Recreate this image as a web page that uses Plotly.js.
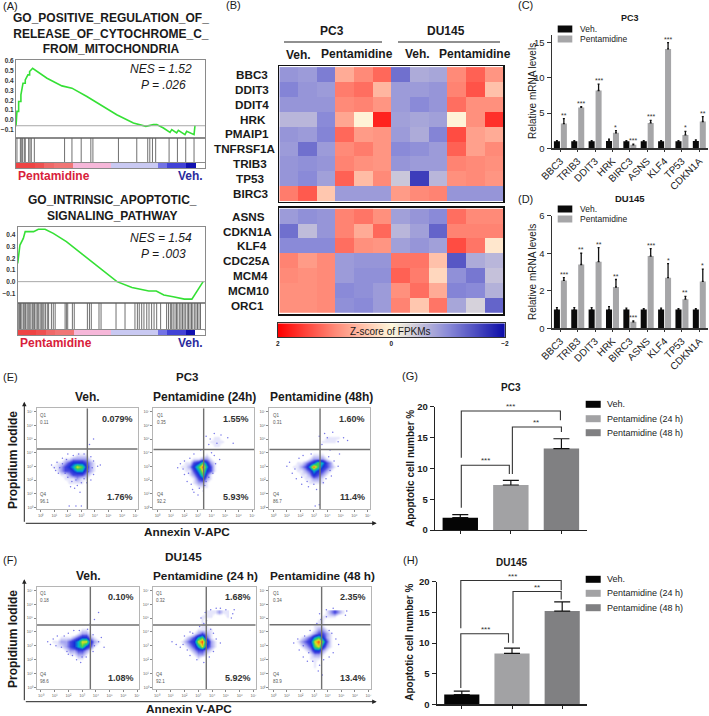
<!DOCTYPE html>
<html>
<head>
<meta charset="utf-8">
<script src="https://cdn.plot.ly/plotly-3.0.1.min.js"></script>
<style>body { margin: 0; background: #fff; }</style>
</head>
<body>
<div id="chart" style="width:709px;height:716px"></div>
<script>
// panel A: GSEA running score
const gsea1Rank = [0, .005, .014, .014, .026, .026, .037, .049, .049, .063, .072, .072, .088, .164, .243, .296, .375, .445, .533, .621, .687, .727, .745, .78, .815, .824, .85, .859, .894, .903, .942, .947];
const gsea1Score = [-.066, .086, .086, .187, .187, .255, .373, .373, .407, .458, .458, .492, .526, .424, .346, .323, .238, .154, .052, -.032, -.066, -.049, -.049, -.083, -.127, -.1, -.134, -.107, -.151, -.117, -.151, -.059];
const gsea1Hits = [.005, .023, .028, .035, .044, .049, .067, .074, .081, .097, .257, .296, .345, .396, .407, .542, .639, .697, .708, .722, .739, .81, .854, .898, .942];
const gsea2Rank = [0, .005, .012, .03, .04, .085, .11, .146, .19, .26, .35, .44, .53, .61, .70, .74, .78, .83, .89, .93, .95, .97, .98, .99];
const gsea2Score = [.157, .25, .314, .371, .429, .429, .449, .449, .414, .343, .229, .115, 0, -.05, -.08, -.08, -.114, -.13, -.15, -.15, -.10, -.05, -.02, 0];
const gsea2Hits = [.003, .01, .015, .022, .03, .035, .042, .05, .056, .062, .07, .078, .083, .09, .098, .105, .112, .12, .128, .134, .14, .148, .158, .165, .18, .19, .2, .253, .26, .267, .292, .302, .372, .383, .393, .434, .445, .525, .573, .626, .639, .649, .662, .674, .689, .701, .715, .728, .742, .763, .795, .805, .815, .822, .83, .84, .848, .855, .865, .872, .88, .888, .895, .905, .912, .92, .928, .935, .945, .952, .96, .968, .976];
const stripValues = [3, 3, 2.8, 2.4, 2.2, 2.2, 1, 1, 1, 1, -1, -1, -1, -1, -1, -1.7, -2.2, -2.2, -3, 0];

// panel B: z-scores by gene, columns are PC3 veh x3, pent x3, DU145 veh x3, pent x3
const genesTop = ["BBC3", "DDIT3", "DDIT4", "HRK", "PMAIP1", "TNFRSF1A", "TRIB3", "TP53", "BIRC3"];
const zTop = [
    [-.9, -.85, -1.1, .7, 1, 1.25, -1.2, -.7, -.75, 1, 1.3, .9],
    [-1.05, -.9, -.85, 1.1, 1.2, .6, -.85, -.85, -.9, 1.05, 1.4, .5],
    [-.9, -.9, -.9, 1, 1.05, .9, -.85, -1, -.9, 1.2, .95, .95],
    [-.6, -.6, -1, .75, .05, 1.75, -.8, -.75, -.8, .05, .95, 1.65],
    [-.9, -.85, -1.05, 1.25, .85, .9, -.85, -.7, -1.05, 1.45, .8, .7],
    [-.85, -1.2, -.85, 1, 1.1, .9, -1, -.95, -.85, 1.3, .8, 1],
    [-.9, -.95, -.9, 1.05, .95, .9, -.9, -.85, -.85, 1.05, 1, .95],
    [-.9, -1, -.8, 1.3, .55, 1, -.45, -1.6, -.6, .95, 1, .9],
    [1.1, 1.35, .45, -.85, -.85, -.85, .85, 1, 1.05, -.9, -.9, -.9],
];
const genesBottom = ["ASNS", "CDKN1A", "KLF4", "CDC25A", "MCM4", "MCM10", "ORC1"];
const zBottom = [
    [-.85, -.95, -.9, 1.05, 1.15, .95, -.8, -.9, -1, 1.2, 1, 1],
    [-1.2, -.55, -.9, 1.05, .7, 1.25, -.6, -.8, -1.3, 1.05, 1.05, 1.05],
    [-1, -1, -1, 1.2, .95, .9, -.8, -.9, -.8, 1.45, 1.15, .15],
    [1.05, .85, 1, -.85, -.9, -.9, 1.15, 1.15, .5, -1.4, -.7, -.6],
    [1, .95, 1, -.85, -.95, -.95, 1.3, 1.1, .3, -.95, -1.15, -.5],
    [.95, .95, 1, -1, -.95, -.85, .95, 1.2, .7, -1.05, -1, -.65],
    [.95, .95, 1, -.95, -1, -.85, 1.05, .45, 1.15, -.75, -.35, -1.3],
];
const zScale = [2, 1.5, 1, .5, 0, -.5, -1, -1.5, -2];

// panels C and D: qPCR
const qpcrGenes = ["BBC3", "TRIB3", "DDIT3", "HRK", "BIRC3", "ASNS", "KLF4", "TP53", "CDKN1A"];
const pc3Veh = [1, 1, 1, 1.05, 1, 1, 1, 1, 1.05];
const pc3VehErr = [.1, .1, .1, .25, .1, .1, .1, .1, .15];
const pc3Pent = [3.5, 5.8, 8.2, 2.2, .5, 3.6, 14.1, 1.9, 3.8];
const pc3PentErr = [.7, .1, .9, .3, .1, .35, .9, .5, .7];
const pc3Sig = ["**", "***", "***", "*", "***", "***", "***", "*", "**"];
const duVeh = [1, 1, 1, 1, 1, 1, 1, 1, 1];
const duVehErr = [.1, .1, .1, .15, .08, .05, .08, .05, .05];
const duPent = [2.55, 3.4, 3.55, 2.2, .35, 3.85, 2.7, 1.55, 2.5];
const duPentErr = [.15, .6, .75, .4, .05, .4, .75, .15, .65];
const duSig = ["***", "**", "**", "**", "***", "***", "*", "**", "*"];

// panels G and H: apoptosis
const treatments = ["Veh.", "Pentamidine (24 h)", "Pentamidine (48 h)"];
const pc3Apoptosis = [2, 7.3, 13.2];
const pc3ApoptosisErr = [.5, .75, 1.6];
const duApoptosis = [1.6, 8.3, 15.2];
const duApoptosisErr = [.55, .85, 1.5];

// panels E and F: flow density, one digit per cell
const densityX = [.6, .9, 1.2, 1.5, 1.8, 2.1, 2.4, 2.7, 3, 3.3, 3.6, 3.9, 4.2, 4.5, 4.8, 5.1];
const densityY = [5.4, 5.1, 4.8, 4.5, 4.2, 3.9, 3.6, 3.3, 3, 2.7, 2.4, 2.1, 1.8, 1.5, 1.2];
const e1Density = ["0000000000000000", "0000000000000000", "0000000000000000", "0000000000000000", "0000000000000000", "0000000111000000", "0000112222100000", "0011234443210000", "0112345764210000", "0012334553210000", "0001123332100000", "0000111211000000", "0000011110000000", "0000000000000000", "0000000000000000"];
const e2Density = ["0000000000000000", "0000000000001100", "0000000000011110", "0000000000001100", "0000000000000000", "0000000000100000", "0000000112210000", "0000011346421000", "0000112468531000", "0000011357431000", "0000001246310000", "0000000134210000", "0000000122100000", "0000000011100000", "0000000000000000"];
const e3Density = ["0000000000000000", "0000000000011110", "0000000000111100", "0000000000000000", "0000000000000000", "0000000011100000", "0000000122210000", "0000112346532000", "0001123586432100", "0000112354321000", "0000011243210000", "0000001122100000", "0000000111100000", "0000000000000000", "0000000000000000"];
const f1Density = ["0000000000000000", "0000000000000000", "0000000000000000", "0000000000000000", "0000000011000000", "0000000122100000", "0001112344210000", "0112234577421000", "0011234564310000", "0000122332100000", "0000011221000000", "0000000110000000", "0000000000000000", "0000000000000000", "0000000000000000"];
const f2Density = ["0000000000111211", "0000000001110001", "0000000001000000", "0000000001100000", "0000000011110000", "0000000123210000", "0000012356310000", "0000123478521000", "0000012357421000", "0000001233210000", "0000000122100000", "0000000010000000", "0000000000000000", "0000000000000000", "0000000000000000"];
const f3Density = ["0000000000012321", "0000000000111100", "0000000001100000", "0000000011100000", "0000000012210000", "0000000123321000", "0000012356421000", "0000123478631000", "0000012367421000", "0000001244210000", "0000000122100000", "0000000111000000", "0000000010000000", "0000000010000000", "0000000000000000"];
const e1Dots = [[1, 2.9], [.8, 3.1], [1.3, 2.5], [1.6, 3.6], [3.9, 3.4], [4.2, 3], [3.9, 2.4], [3.6, 4.6], [3.9, 5], [2.5, 1.4], [2.9, 1.1], [2.2, 1.5], [3.4, 1.8], [3.2, 3.9], [2, 3.9], [4.4, 3.1], [1.2, 3.3], [3.7, 2], [2.7, 1.6], [1.4, 2.9], [1.6, 3.2], [1.8, 2.5], [2, 2.2], [2.3, 1.9], [2.6, 2], [3, 1.8], [3.2, 2.1], [3.5, 2.6], [3.7, 3.7], [2.4, 3.8], [2.8, 3.9], [1.9, 3.5], [1.1, 2.7], [3.8, 2.9], [2.1, .1], [2.6, .1], [3, .1]];
const e2Dots = [[1.5, 2.9], [1.7, 3.2], [2, 2.4], [2.2, 1.9], [4.3, 3.2], [4.6, 3.5], [4.1, 2.5], [3.4, 1.2], [3, .9], [3.2, 4.2], [3.8, 4.6], [4.7, 5.3], [5.2, 5.1], [5.6, 4.7], [3.6, 5.2], [4, 4], [2.6, 1.3], [3.5, 1.6], [2.7, 3.9], [4.2, 5.4], [4.4, 4.7], [3.9, 5], [2.3, 2.5], [2.4, 3.6], [2, 3.4], [3.8, 2.2], [3.6, 1.9], [2.5, 1.7], [2.7, 1.1], [3.1, 1.4], [4.2, 3.8], [1.9, 2.8]];
const e3Dots = [[1, 3], [1.2, 3.3], [1.4, 2.5], [1.7, 2.1], [4.5, 3.4], [4.8, 3], [4.3, 2.3], [3.2, 1.3], [2.6, 1.5], [3.6, 4.6], [3.4, 5.2], [5.2, 5.1], [5.5, 4.9], [4.2, 4.2], [2.2, 3.8], [3.7, 1.8], [2.1, 1.7], [4.9, 3.9], [3.4, .2], [3.1, .1], [3.8, 5.4], [4.4, 5.5], [4.8, 4.8], [4, 5.1], [1.6, 2.8], [1.9, 3.6], [2.1, 2.2], [2.5, 1.9], [3, 1.7], [3.9, 2.1], [4.2, 2.7], [4.1, 3.7], [2.8, 3.9]];
const f1Dots = [[.5, 3.3], [.7, 3.1], [.9, 3.5], [1.2, 3.7], [4.2, 3.3], [4.4, 3.6], [3.8, 2.6], [3.6, 4.6], [4.2, 5.4], [3.9, 4.9], [3.3, 2.2], [2.6, 2], [2.9, 1.8], [1.9, 2.6], [4.6, 2.9], [3.4, 4.2], [2.4, 4.1], [1.1, 3], [1.5, 2.9], [1.7, 3.7], [2, 2.4], [2.3, 2.3], [3, 2.2], [3.6, 2.9], [3.9, 3], [3.8, 3.8], [2.8, 4.1], [2, 3.9]];
const f2Dots = [[1.1, 3.3], [1.4, 3.1], [1.7, 2.9], [2, 3.7], [4.3, 3.5], [4.6, 3.2], [4.1, 2.6], [3.4, 1.8], [2.9, 2], [3.6, 4.8], [5.4, 5], [5.5, 5.3], [5.6, 5.6], [4.3, 5.7], [3.2, 5], [3.9, 4.2], [2.4, 4], [1.9, 3.1], [2.2, 2.7], [2.4, 2.3], [2.6, 3.9], [3.1, 4.4], [3.4, 4.6], [3.8, 2.2], [4.1, 3.9], [3.9, 5.6], [3.5, 5.4], [4.6, 5.7], [5, 5.6]];
const f3Dots = [[1.5, 3.2], [1.8, 3.5], [1.9, 2.7], [2.2, 2.2], [4.6, 3.5], [4.8, 3.1], [4.4, 2.5], [3.3, 1.2], [3.6, .9], [3.4, 1.6], [3.5, 4.9], [5.4, 5.5], [5.3, 5.2], [3.9, 5.1], [2.7, 4.1], [4.1, 4.1], [2.5, 1.9], [2.2, 3], [2.3, 3.7], [2.6, 2.5], [3.7, 2], [4.1, 2.2], [4.3, 3.9], [3.2, 4.6], [3.4, 5.3], [3.9, 5.6], [4.4, 5.7], [2.9, 1.9]];
const flowTickLabels = ["10⁰", "10¹", "10²", "10³", "10⁴", "10⁵", "10⁶", "10⁷"];

const W = 709, H = 716;
const GENE_RED = "#d8213b", GENE_BLUE = "#2b2b9c";

let data = [], layout = {
    width: W, height: H, margin: {l: 0, r: 0, t: 0, b: 0}, showlegend: false,
    paper_bgcolor: "#fff", plot_bgcolor: "rgba(0,0,0,0)",
    font: {family: '"Liberation Sans", Arial, sans-serif', color: "#1a1a1a"},
    annotations: [], shapes: [],
};
let axisCount = 0;

// place a subplot by its pixel box
function addAxes(x0, x1, y0, y1, xOpts, yOpts) {
    axisCount += 1;
    let n = axisCount;
    layout["xaxis" + n] = Object.assign({domain: [x0 / W, x1 / W], anchor: "y" + n, showgrid: false, zeroline: false, showticklabels: false, ticks: ""}, xOpts);
    layout["yaxis" + n] = Object.assign({domain: [1 - y1 / H, 1 - y0 / H], anchor: "x" + n, showgrid: false, zeroline: false, showticklabels: false, ticks: ""}, yOpts);
    return {xaxis: "x" + n, yaxis: "y" + n};
}

function label(x, y, text, opts) {
    opts = opts || {};
    layout.annotations.push({
        xref: "paper", yref: "paper", x: x / W, y: 1 - y / H, text: opts.bold ? "<b>" + text + "</b>" : text,
        showarrow: false, xanchor: opts.anchor || "center", yanchor: "middle", textangle: opts.angle || 0,
        font: {size: opts.size || 10, color: opts.color || "#1a1a1a"},
    });
}

function arrow(x, y, dx, dy) {
    layout.annotations.push({
        xref: "paper", yref: "paper", x: x / W, y: 1 - y / H, ax: dx, ay: dy, text: "",
        showarrow: true, arrowhead: 2, arrowsize: .9, arrowwidth: 1, arrowcolor: "#222",
    });
}

function rule(x0, y0, x1, y1) {
    layout.shapes.push({type: "line", xref: "paper", yref: "paper", x0: x0 / W, x1: x1 / W, y0: 1 - y0 / H, y1: 1 - y1 / H, line: {color: "#222", width: 1.2}});
}

function swatch(x0, x1, y, color) {
    layout.shapes.push({type: "rect", xref: "paper", yref: "paper", x0: x0 / W, x1: x1 / W, y0: 1 - (y + 3.5) / H, y1: 1 - (y - 3.5) / H, fillcolor: color, line: {width: 0}});
}

// panel A
function gseaPanel(box, hitsBottom, stripBottom, yRange, yTicks, rank, score, hits, zero, title, titleX, titleY, nes, pval, nesY, wordY) {
    const frame = {showline: true, linecolor: "#8a8a8a", linewidth: 1, mirror: true};
    let curve = addAxes(box[0], box[1], box[2], box[3],
        Object.assign({range: [0, 1]}, frame),
        Object.assign({range: yRange, tickvals: yTicks, ticktext: yTicks.map(v => v.toFixed(1).replace("-", "−")), showticklabels: true, tickfont: {size: 6.5, color: "#333", weight: "bold"}, ticklen: 0}, frame));
    layout.shapes.push({type: "line", xref: curve.xaxis + " domain", yref: curve.yaxis, x0: 0, x1: 1, y0: zero, y1: zero, line: {color: "#a8a8a8", width: 1}});
    data.push(Object.assign({type: "scatter", mode: "lines", x: rank, y: score, line: {color: "#35e035", width: 1.6}}, curve));

    let hitAxes = addAxes(box[0], box[1], box[3], hitsBottom, Object.assign({range: [0, 1]}, frame), Object.assign({range: [0, 1]}, frame));
    data.push(Object.assign({
        type: "scatter", mode: "lines",
        x: hits.flatMap(r => [r, r, null]), y: hits.flatMap(() => [0, 1, null]),
        line: {color: "#606060", width: .9},
    }, hitAxes));

    let stripAxes = addAxes(box[0], box[1], hitsBottom, stripBottom, Object.assign({range: [0, 1]}, frame), Object.assign({range: [-.5, .5]}, frame));
    data.push(Object.assign({
        type: "heatmap", x: stripValues.map((v, i) => (i + .5) / stripValues.length), z: [stripValues], zmin: -3, zmax: 3, showscale: false,
        colorscale: [[0, "#1010b0"], [.17, "#5050e0"], [.33, "#c8c8f2"], [.5, "#ffffff"], [.67, "#f6b6d8"], [.83, "#f08282"], [1, "#ee4444"]],
    }, stripAxes));

    label(titleX, titleY, title, {bold: true, size: 12});
    label(161, nesY, nes, {size: 12});
    label(163, nesY + 16, pval, {size: 12});
    label(box[0], wordY, "Pentamidine", {bold: true, size: 12, color: GENE_RED, anchor: "left"});
    label(box[1], wordY, "Veh.", {bold: true, size: 12, color: GENE_BLUE, anchor: "right"});
}

gseaPanel([16, 205, 60, 138], 163, 168, [-.185, .61], [.6, .5, .4, .3, .2, .1, 0, -.1], gsea1Rank, gsea1Score, gsea1Hits, -.06,
    "GO_POSITIVE_REGULATION_OF_<br>RELEASE_OF_CYTOCHROME_C_<br>FROM_MITOCHONDRIA", 111, 34, "<i>NES = 1.52</i>", "<i>P = .026</i>", 69, 176);
gseaPanel([17.7, 205, 226.7, 303], 330, 335, [-.183, .471], [.4, .3, .2, .1, 0, -.1], gsea2Rank, gsea2Score, gsea2Hits, 0,
    "GO_INTRINSIC_APOPTOTIC_<br>SIGNALING_PATHWAY", 112.5, 208, "<i>NES = 1.54</i>", "<i>P = .003</i>", 238, 343);

// panel B
const heatColors = [[0, "#0a0aa8"], [.25, "#8a8ad8"], [.5, "#fff8dc"], [.75, "#ff8a78"], [1, "#ff0000"]];
function heatPanel(y0, y1, genes, z, labelCenters) {
    let frame = {showline: true, linecolor: "#111", linewidth: 1.5, mirror: true};
    let axes = addAxes(279.3, 503.3, y0, y1, Object.assign({range: [-.5, 11.5]}, frame), Object.assign({autorange: "reversed", type: "category"}, frame));
    data.push(Object.assign({type: "heatmap", z: z, y: genes, zmin: -2, zmax: 2, colorscale: heatColors, showscale: false}, axes));
    genes.forEach(function(gene, i) {
        layout.annotations.push({xref: "paper", yref: axes.yaxis, x: labelCenters[i] / W, y: gene, text: "<b>" + gene + "</b>", showarrow: false, font: {size: 11.7}});
    });
}
heatPanel(66, 201.7, genesTop, zTop, [251.5, 252, 252, 253, 246.5, 245, 250, 250, 251]);
heatPanel(207.7, 314, genesBottom, zBottom, [248, 247.5, 252, 246, 250, 248.5, 247.5]);
let scaleAxes = addAxes(277.7, 505, 323.3, 337.3,
    {range: [2, -2], tickvals: [2, 0, -2], ticktext: ["2", "0", "−2"], showticklabels: true, tickfont: {size: 6.5, weight: "bold"}, ticks: "", showline: true, linecolor: "#333", linewidth: 1, mirror: true},
    {range: [-.5, .5], showline: true, linecolor: "#333", linewidth: 1, mirror: true});
data.push(Object.assign({type: "heatmap", x: zScale, z: [zScale], zmin: -2, zmax: 2, zsmooth: "best", colorscale: heatColors, showscale: false}, scaleAxes));
label(390, 331, "Z-score of FPKMs", {size: 10});
label(331.7, 31, "PC3", {bold: true, size: 12});
label(445.7, 31, "DU145", {bold: true, size: 12});
rule(284, 42, 382, 42);
rule(398, 42, 500, 42);
label(298, 55, "Veh.", {bold: true, size: 12});
label(357, 54, "Pentamidine", {bold: true, size: 12});
label(417, 54, "Veh.", {bold: true, size: 12});
label(475, 54, "Pentamidine", {bold: true, size: 12});

// panels C and D
function qpcrPanel(y0, y1, yMax, yTicks, veh, vehErr, pent, pentErr, sig, title, titleSize, titleY, legendY, ylabelY) {
    let axes = addAxes(551.7, 708, y0, y1,
        {type: "category", categoryorder: "array", categoryarray: qpcrGenes, range: [-.5, 8.5], tickvals: qpcrGenes, showticklabels: true, tickangle: -45, tickfont: {size: 10, color: "#222"}, ticks: "outside", ticklen: 2, tickcolor: "#333", showline: true, linecolor: "#333", linewidth: 1.2},
        {range: [0, yMax], tickvals: yTicks, showticklabels: true, tickfont: {size: 9.5, color: "#222"}, ticks: "outside", ticklen: 4, tickcolor: "#333", showline: true, linecolor: "#333", linewidth: 1.2});
    data.push(Object.assign({type: "bar", name: "Veh.", x: qpcrGenes, y: veh, marker: {color: "#0a0a0a"}, error_y: {type: "data", array: vehErr, arrayminus: vehErr.map(() => 0), color: "#111", thickness: 1.3, width: 1}}, axes));
    data.push(Object.assign({type: "bar", name: "Pentamidine", x: qpcrGenes, y: pent, marker: {color: "#a6a6a8"}, error_y: {type: "data", array: pentErr, arrayminus: pentErr.map(() => 0), color: "#111", thickness: 1.3, width: 1}}, axes));
    sig.forEach(function(s, i) {
        layout.annotations.push({xref: axes.xaxis, yref: axes.yaxis, x: i + .2, y: pent[i] + pentErr[i], text: s, showarrow: false, yanchor: "bottom", yshift: -2, font: {size: 7, color: "#333"}});
    });
    label(629.5, titleY, title, {bold: true, size: titleSize});
    swatch(557.7, 572.3, legendY, "#0a0a0a");
    swatch(557.7, 572.3, legendY + 10, "#a6a6a8");
    label(578, legendY, "Veh.", {size: 8.5, anchor: "left"});
    label(578, legendY + 10, "Pentamidine", {size: 8.5, anchor: "left"});
    label(532, ylabelY, "Relative mRNA levels", {size: 10, angle: -90});
}
layout.barmode = "group";
layout.bargap = .2;
layout.bargroupgap = .13;
qpcrPanel(35, 148.3, 16.07, [0, 5, 10, 15], pc3Veh, pc3VehErr, pc3Pent, pc3PentErr, pc3Sig, "PC3", 9, 18, 29, 91);
qpcrPanel(215.7, 328.3, 6, [0, 2, 4, 6], duVeh, duVehErr, duPent, duPentErr, duSig, "DU145", 9.5, 198, 209, 272);

// panels E and F
const flowColors = [[0, "#ffffff"], [.06, "#ffffff"], [.125, "#e6e6fb"], [.25, "#a4a4f0"], [.375, "#4646e0"], [.5, "#1630d8"], [.625, "#00b0d0"], [.75, "#40d050"], [.875, "#e8e020"], [1, "#ff4a10"]];
function flowPanel(box, density, dots, gateX, gateY, q1, q4, upper, lower) {
    let frame = {showline: true, linecolor: "#b5b5b5", linewidth: 1, mirror: true, tickvals: [0, 1, 2, 3, 4, 5, 6, 7], ticktext: flowTickLabels, showticklabels: true, tickfont: {size: 4, color: "#666"}, ticks: "outside", ticklen: 2, tickcolor: "#888"};
    let axes = addAxes(box[0], box[1], box[2], box[3], Object.assign({range: [-.3, 7.16]}, frame), Object.assign({range: [-.12, 7.25]}, frame));
    data.push(Object.assign({
        type: "heatmap", x: densityX, y: densityY, z: density.map(row => row.split("").map(Number)),
        zmin: 0, zmax: 8, zsmooth: "best", colorscale: flowColors, showscale: false,
    }, axes));
    data.push(Object.assign({type: "scatter", mode: "markers", x: dots.map(d => d[0]), y: dots.map(d => d[1]), marker: {size: 1.5, color: "#4a4ae0", opacity: .75}}, axes));
    data.push(Object.assign({type: "scatter", mode: "lines", x: [gateX, gateX], y: [-.12, 7.25], line: {color: "#707070", width: 1.4}}, axes));
    data.push(Object.assign({type: "scatter", mode: "lines", x: [-.3, 7.16], y: [gateY, gateY], line: {color: "#707070", width: 1.4}}, axes));
    label(box[0] + 1.7, box[2] + 6.7, "Q1", {size: 4.5, color: "#555", anchor: "left"});
    label(box[0] + 1.7, box[2] + 14, q1, {size: 4.5, color: "#555", anchor: "left"});
    label(box[0] + 1.7, box[3] - 14.5, "Q4", {size: 4.5, color: "#555", anchor: "left"});
    label(box[0] + 1.7, box[3] - 7.5, q4, {size: 4.5, color: "#555", anchor: "left"});
    label(box[1] - 3, box[2] + 10.4, upper, {bold: true, size: 9, color: "#333", anchor: "right"});
    label(box[1] - 3, box[3] - 11.5, lower, {bold: true, size: 9, color: "#333", anchor: "right"});
}
flowPanel([36.7, 137.7, 408.3, 509], e1Density, e1Dots, 3.44, 4.27, "0.11", "96.1", "0.079%", "1.76%");
flowPanel([153.3, 254.3, 408.3, 509], e2Density, e2Dots, 3.42, 4.24, "0.35", "92.2", "1.55%", "5.93%");
flowPanel([269.3, 370, 408.3, 509], e3Density, e3Dots, 3.46, 4.24, "0.31", "86.7", "1.60%", "11.4%");
flowPanel([36.7, 139.3, 586.7, 689.3], f1Density, f1Dots, 3.6, 4.5, "0.18", "98.6", "0.10%", "1.08%");
flowPanel([152.7, 255.7, 586.7, 689.3], f2Density, f2Dots, 3.58, 4.5, "0.32", "92.1", "1.68%", "5.92%");
flowPanel([269.3, 370.7, 586.7, 689.3], f3Density, f3Dots, 3.55, 4.52, "0.34", "83.9", "2.35%", "13.4%");
label(186.7, 377, "PC3", {bold: true, size: 11.5});
label(87.7, 396.7, "Veh.", {bold: true, size: 12});
label(204, 396.7, "Pentamidine (24h)", {bold: true, size: 12});
label(321.7, 396.7, "Pentamidine (48h)", {bold: true, size: 12});
label(183, 557, "DU145", {bold: true, size: 11.8});
label(88.3, 576, "Veh.", {bold: true, size: 12});
label(205, 576, "Pentamidine (24 h)", {bold: true, size: 11.8});
label(322.7, 576, "Pentamidine (48 h)", {bold: true, size: 11.8});
arrow(24.3, 401.7, 0, 121.6);
arrow(376.7, 523.3, -352.4, 0);
arrow(24.3, 579.3, 0, 122.4);
arrow(376.7, 701.7, -352.4, 0);
label(13, 460, "Propidium Iodide", {bold: true, size: 12, angle: -90});
label(13, 639, "Propidium Iodide", {bold: true, size: 12, angle: -90});
label(186.7, 531.7, "Annexin V-APC", {bold: true, size: 11.8});
label(189.3, 708.5, "Annexin V-APC", {bold: true, size: 11.8});

// panels G and H
const apoptosisColors = ["#050505", "#a2a2a4", "#808082"];
function apoptosisPanel(x0, x1, y0, y1, values, errs, brackets, stars, title, titleX, titleY, legendY, ylabelX, ylabelY) {
    let axes = addAxes(x0, x1, y0, y1,
        {range: [-.5, 2.5], tickvals: [0, 1, 2], ticktext: ["", "", ""], showticklabels: true, ticks: "outside", ticklen: 3, tickcolor: "#222", showline: true, linecolor: "#222", linewidth: 1.2},
        {range: [0, 20], tickvals: [0, 5, 10, 15, 20], showticklabels: true, tickfont: {size: 9.5, weight: "bold"}, ticks: "outside", ticklen: 4, tickcolor: "#222", showline: true, linecolor: "#222", linewidth: 1.2});
    data.push(Object.assign({
        type: "bar", x: [0, 1, 2], y: values, width: .7, marker: {color: apoptosisColors},
        error_y: {type: "data", array: errs, arrayminus: errs.map(() => 0), color: "#111", thickness: 1.2, width: 8},
    }, axes));
    // brackets run past the top of the y axis, so they get a taller overlay with the same scale
    let over = addAxes(x0, x1, y1 - 22 * (y1 - y0) / 20, y1, {range: [-.5, 2.5], visible: false}, {range: [0, 22], visible: false});
    brackets.forEach(function(b) {
        data.push(Object.assign({type: "scatter", mode: "lines", x: b.x, y: b.y, line: {color: "#333", width: 1.1}}, over));
    });
    stars.forEach(function(s) {
        layout.annotations.push({xref: over.xaxis, yref: over.yaxis, x: s[0], y: s[1], text: s[2], showarrow: false, font: {size: 8, color: "#333"}});
    });
    label(titleX, titleY, title, {bold: true, size: 10});
    treatments.forEach(function(t, i) {
        swatch(585.7, 600.7, legendY[i], apoptosisColors[i]);
        label(605, legendY[i], t, {size: 9, anchor: "left"});
    });
    label(ylabelX, ylabelY, "Apoptotic cell number %", {bold: true, size: 10, angle: -90});
}
apoptosisPanel(435, 586.7, 406.7, 530, pc3Apoptosis, pc3ApoptosisErr,
    [{x: [.02, .02, 1.98, 1.98], y: [11.7, 19.3, 19.3, 17.8]}, {x: [1.03, 1.03, 2, 2], y: [9.1, 16.7, 16.7, 15.9]}, {x: [.02, .02, .97, .97], y: [3.6, 10.5, 10.5, 9.1]}],
    [[1, 20, "***"], [1.5, 17.5, "**"], [.5, 11.3, "***"]],
    "PC3", 511, 387.7, [404.3, 418.7, 432.7], 410, 469);
apoptosisPanel(436.7, 587.3, 581.7, 704.3, duApoptosis, duApoptosisErr,
    [{x: [-.02, -.02, 1.98, 1.98], y: [12.4, 20.2, 20.2, 18.6]}, {x: [1.02, 1.02, 1.98, 1.98], y: [9.95, 18.4, 18.4, 17.1]}, {x: [-.02, -.02, .93, .93], y: [2.66, 11.5, 11.5, 10.05]}],
    [[1, 20.8, "***"], [1.5, 19, "**"], [.47, 12.2, "***"]],
    "DU145", 512.3, 562.7, [579.3, 593.3, 607.7], 409.3, 642.5);

// panel letters
[["(A)", 10, 6], ["(B)", 233, 5], ["(C)", 525, 5], ["(D)", 525, 199], ["(E)", 10, 377], ["(F)", 10, 560], ["(G)", 410, 376], ["(H)", 410, 560]].forEach(function(p) {
    label(p[1], p[2], p[0], {size: 11});
});

Plotly.newPlot("chart", data, layout, {staticPlot: true, displayModeBar: false});
</script>
</body>
</html>
